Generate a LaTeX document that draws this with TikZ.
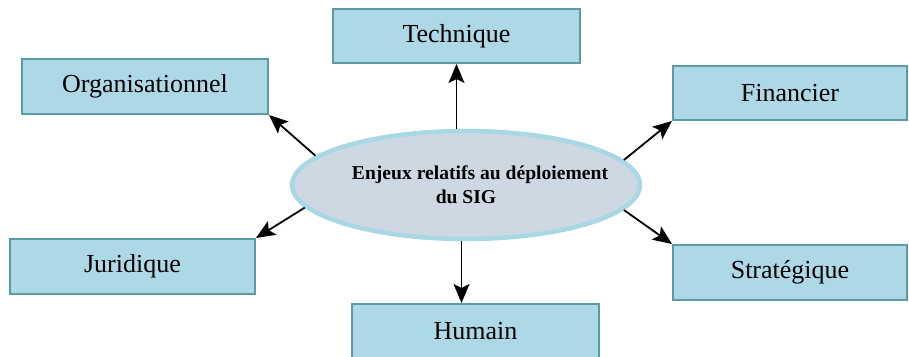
\documentclass[tikz,border=0pt]{standalone}
\usepackage{fontspec}
\setmainfont{Liberation Serif}
\usetikzlibrary{arrows.meta,shapes.geometric}
\definecolor{boxfill}{HTML}{ADD8E6}
\definecolor{boxline}{HTML}{5B9BA6}
\definecolor{ellfill}{HTML}{CDD8E3}
\definecolor{ellline}{HTML}{A8D8E3}
\begin{document}
\begin{tikzpicture}[x=1pt,y=-1pt]
        \useasboundingbox (0,0) rectangle (909,356);
        \tikzstyle{box} = [rectangle, draw=boxline, fill=boxfill, line width=2pt, inner sep=0pt, font=\fontsize{26}{30}\selectfont]
        \tikzstyle{arr} = [-{Stealth[length=19pt,width=16pt,inset=4pt]}, line width=1.8pt]
        \node[ellipse, draw=ellline, fill=ellfill, line width=4.5pt, inner xsep=-30pt, inner ysep=0pt,
              minimum width=348pt, minimum height=108pt, align=center,
              font=\bfseries\fontsize{19.6}{24}\selectfont] (c) at (466,185)
              {\hspace*{28pt}Enjeux relatifs au déploiement\\du SIG};
        \node[box, minimum width=247pt, minimum height=54pt] (tech) at (456.5,36) {Technique};
        \node[box, minimum width=246pt, minimum height=55pt] (org) at (145,86.5) {Organisationnel};
        \node[box, minimum width=234pt, minimum height=54pt] (fin) at (790,93) {Financier};
        \node[box, minimum width=245pt, minimum height=55pt] (jur) at (132.5,266.5) {Juridique};
        \node[box, minimum width=234pt, minimum height=55pt] (str) at (790,272.5) {Stratégique};
        \node[box, minimum width=247pt, minimum height=54pt] (hum) at (475.5,331) {Humain};
        \coordinate (humtop) at ([xshift=-14pt]hum.north);
        \foreach \from/\to in {c.169/org.south east, c.188/jur.north east, c.9/fin.south west, c.351/str.north west}
            \draw[arr] (\from) -- (\to);
        \draw[arr] (tech.south |- c.north) -- (tech.south);
        \draw[arr] (humtop |- c.south) -- (humtop);
\end{tikzpicture}
\end{document}
